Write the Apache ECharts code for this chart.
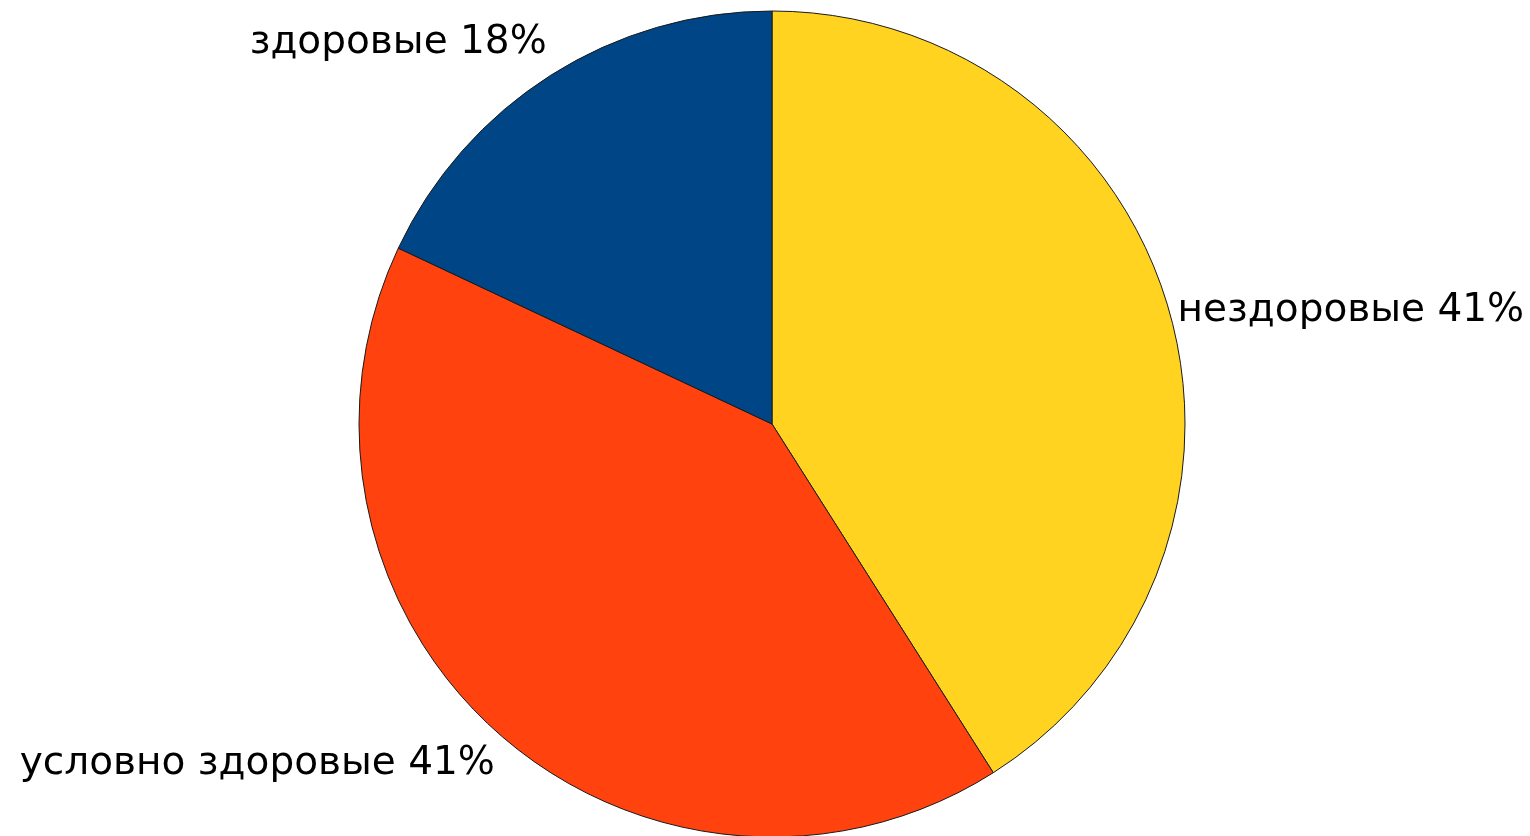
<!DOCTYPE html>
<html>
<head>
<meta charset="utf-8">
<script src="https://cdn.jsdelivr.net/npm/echarts@6/dist/echarts.min.js"></script>
<style>
html,body{margin:0;padding:0;background:#fff;}
#chart{width:1530px;height:836px;}
</style>
</head>
<body>
<div id="chart"></div>
<script>
const categories = ['нездоровые', 'условно здоровые', 'здоровые'];
const values = [41, 41, 18];
const colors = ['#FFD320', '#FF420E', '#004586'];

const chart = echarts.init(document.getElementById('chart'), null, {renderer: 'canvas'});
const cx = 772, cy = 424, R = 413;
chart.setOption({
  animation: false,
  backgroundColor: '#ffffff',
  series: [{
    type: 'pie',
    center: [cx, cy],
    radius: R,
    startAngle: 90,
    clockwise: true,
    avoidLabelOverlap: false,
    data: categories.map((c, i) => ({name: c, value: values[i], itemStyle: {color: colors[i]}})),
    itemStyle: {borderColor: '#1a1a1a', borderWidth: 1},
    label: {
      show: true,
      position: 'outside',
      formatter: p => p.name + ' ' + p.value + '%',
      fontFamily: 'DejaVu Sans, sans-serif',
      fontSize: 39,
      color: '#000'
    },
    labelLine: {show: false, length: 0, length2: 0},
    labelLayout: function (p) {
      const r = p.labelRect;
      const mx = r.x + r.width / 2;
      const my = r.y + r.height / 2;
      const s = (my - cy) / R;
      const dx = mx > cx ? 4 : 1;
      if (s < -0.5) return {verticalAlign: 'bottom', dy: -13, dx: dx};
      if (s > 0.5) return {verticalAlign: 'top', dy: 11, dx: dx};
      return {dy: 2, dx: dx};
    },
    emphasis: {disabled: true}
  }]
});
</script>
</body>
</html>
